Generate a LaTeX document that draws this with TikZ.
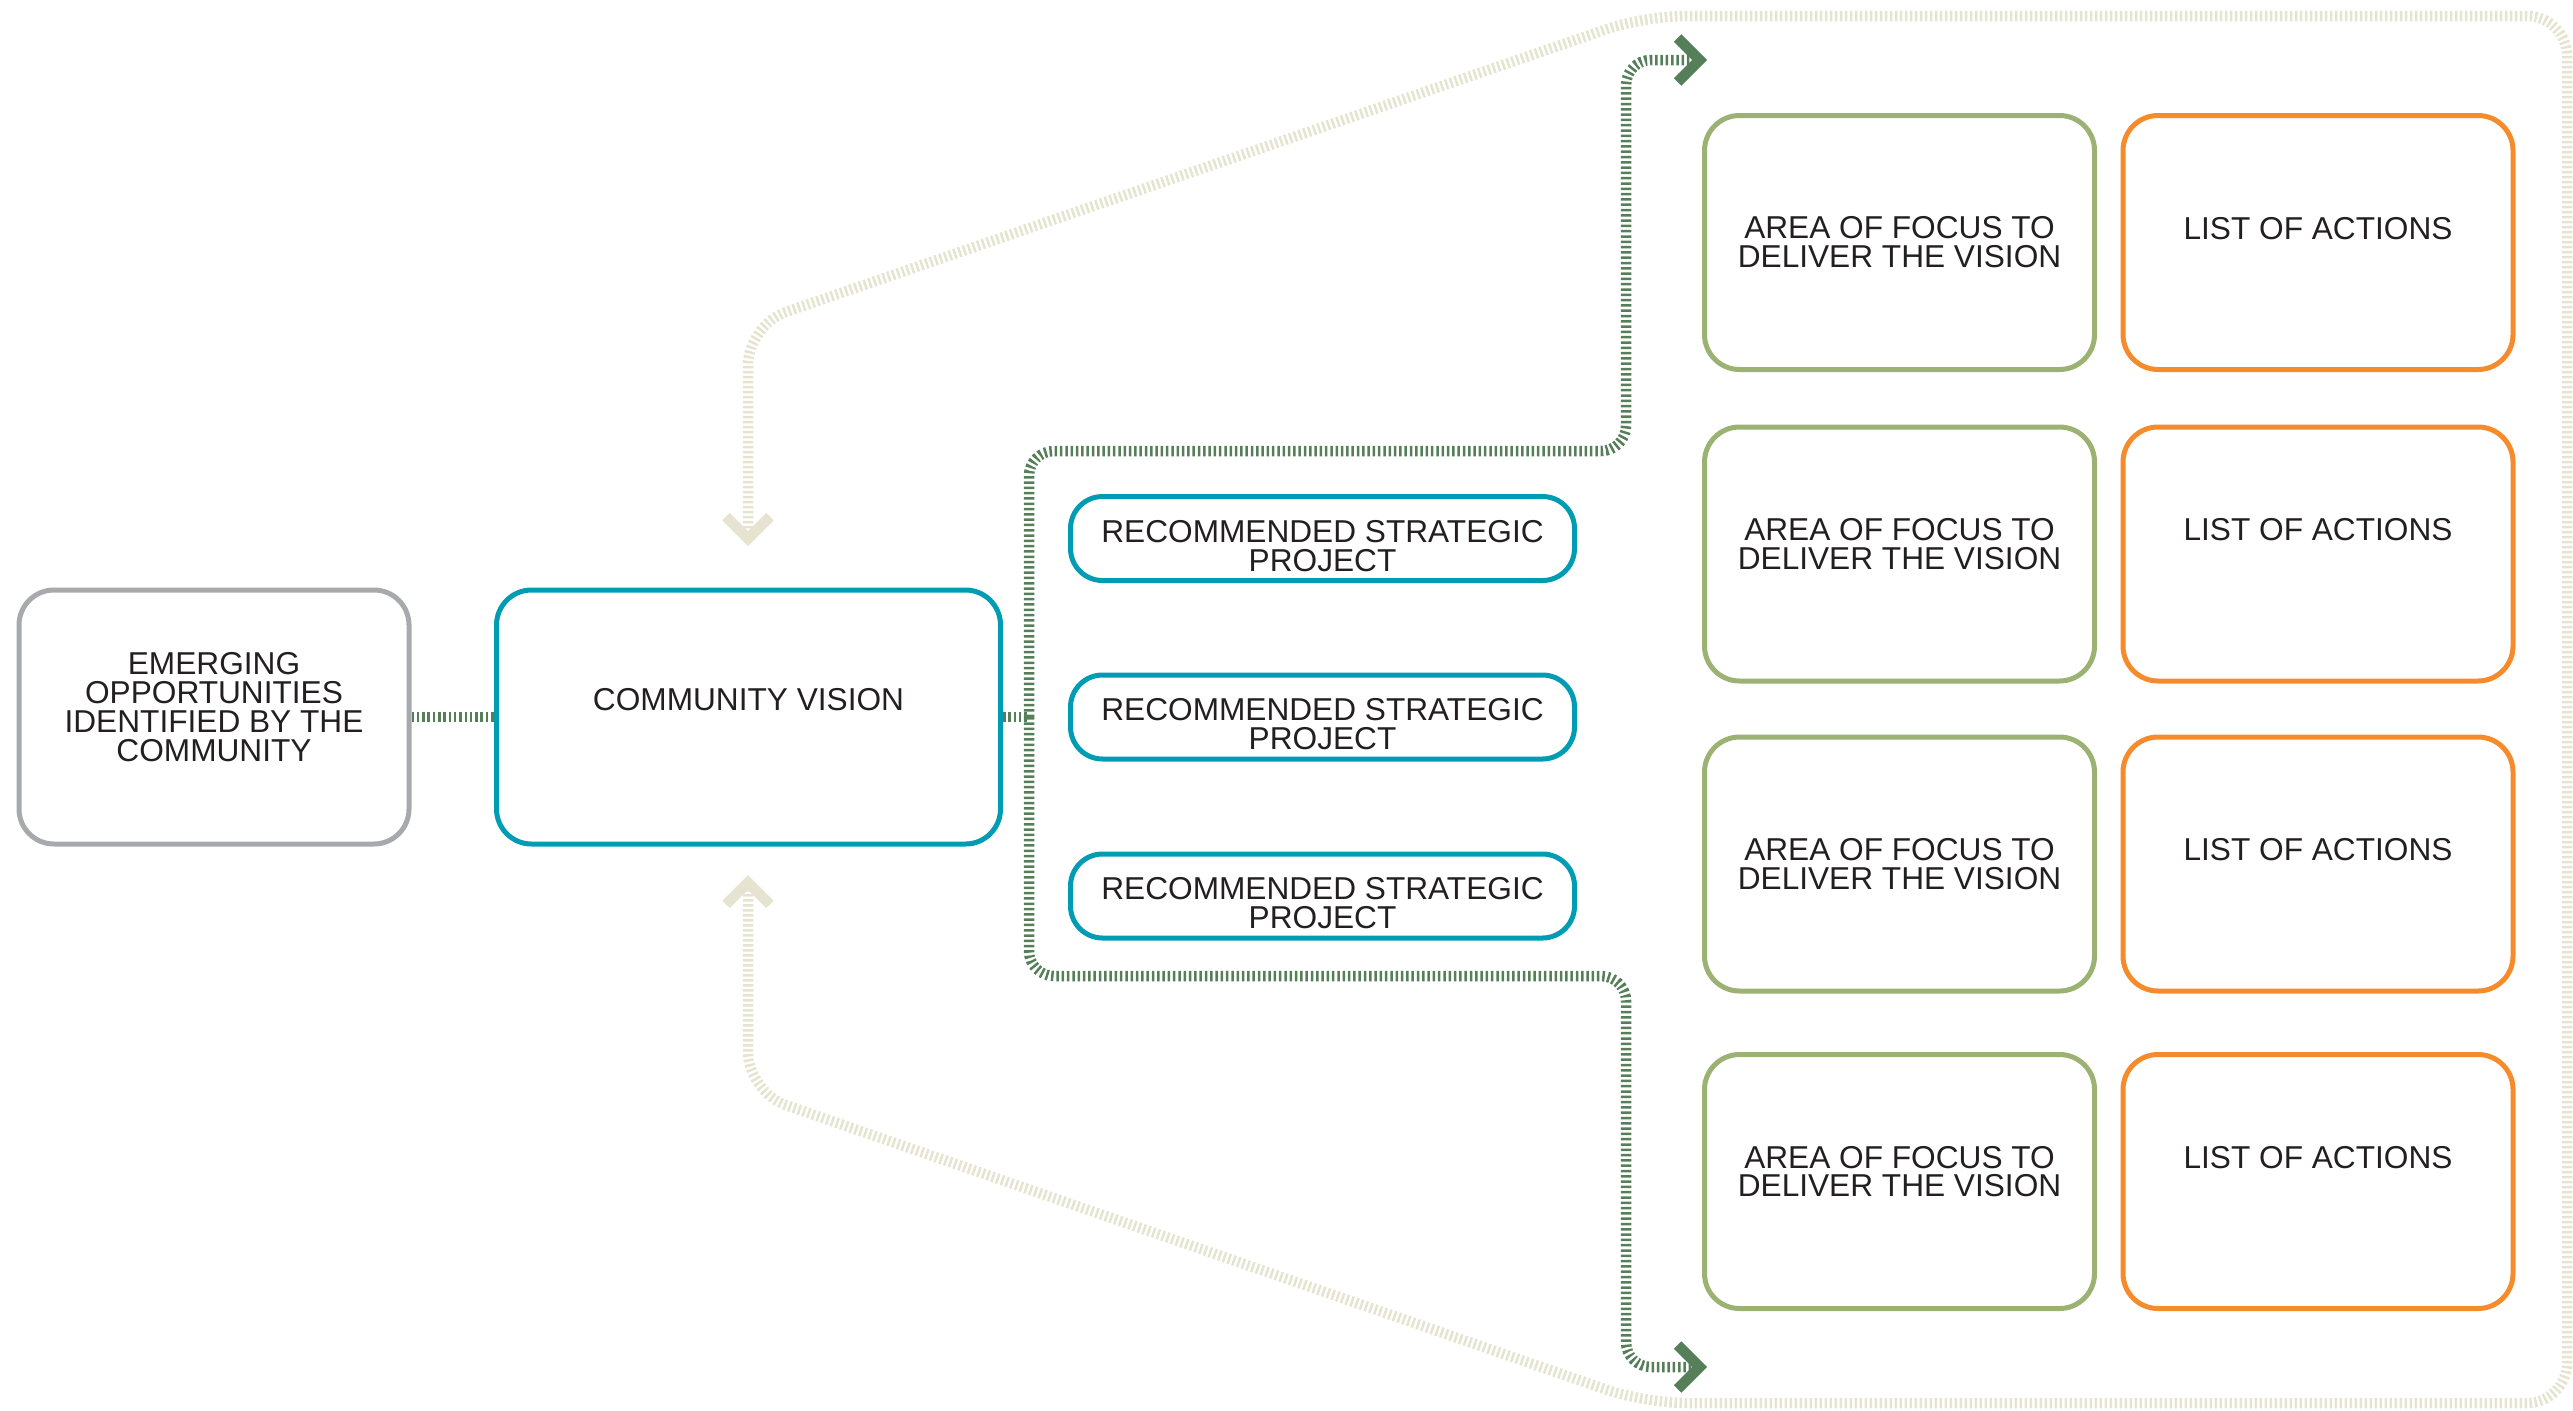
\documentclass[tikz,border=0pt]{standalone}
\usepackage{fontspec}
\setmainfont{Liberation Sans}
\usetikzlibrary{arrows.meta,positioning}

\definecolor{ink}{HTML}{231F20}
\definecolor{greyline}{HTML}{A7A9AC}
\definecolor{teal}{HTML}{009CB4}
\definecolor{leaf}{HTML}{9BB272}
\definecolor{amber}{HTML}{F68B2C}
\definecolor{moss}{HTML}{557F59}
\definecolor{sand}{HTML}{E6E4D0}

\begin{document}
\begin{tikzpicture}[x=0.1mm,y=-0.1mm,
  box/.style={draw,line width=0.5mm,rounded corners=3.5mm,inner sep=0pt,align=center,
    text=ink,font=\fontsize{9pt}{8.2pt}\selectfont,minimum width=39mm,minimum height=25.4mm},
  projbox/.style={box,draw=teal,rounded corners=3.2mm,minimum width=50.4mm,minimum height=8.4mm,text height=6.5mm,text depth=0mm},
  chev/.tip={Straight Barb[length=2.2mm,width=4.4mm]},
  link/.style={draw=moss,line width=1.05mm,dash pattern=on 0.25mm off 0.28mm},
  back/.style={draw=sand,line width=1.05mm,dash pattern=on 0.25mm off 0.25mm,rounded corners=4mm}]
\useasboundingbox (0,0) rectangle (2573,1410);

\node[box,draw=greyline,text depth=2mm] (emerg) at (214,717) {EMERGING\\OPPORTUNITIES\\IDENTIFIED BY THE\\COMMUNITY};
\node[box,draw=teal,minimum width=50.4mm,text depth=3.6mm] (vision) at (748.5,717) {COMMUNITY VISION};

\node[projbox] (proj1) at (1322.5,538.5) {RECOMMENDED STRATEGIC\\PROJECT};
\node[projbox] (proj2) at (1322.5,717) {RECOMMENDED STRATEGIC\\PROJECT};
\node[projbox] (proj3) at (1322.5,896) {RECOMMENDED STRATEGIC\\PROJECT};

\node[box,draw=leaf] (area1) at (1899.5,242.5) {AREA OF FOCUS TO\\DELIVER THE VISION};
\node[box,draw=leaf,text depth=2mm] (area2) at (1899.5,554) {AREA OF FOCUS TO\\DELIVER THE VISION};
\node[box,draw=leaf] (area3) at (1899.5,864) {AREA OF FOCUS TO\\DELIVER THE VISION};
\node[box,draw=leaf,text depth=2mm] (area4) at (1899.5,1181.5) {AREA OF FOCUS TO\\DELIVER THE VISION};

\node[box,draw=amber] (list1) at (2318,242.5) {LIST OF ACTIONS\\\phantom{X}};
\node[box,draw=amber,text depth=2mm] (list2) at (2318,554) {LIST OF ACTIONS\\\phantom{X}};
\node[box,draw=amber] (list3) at (2318,864) {LIST OF ACTIONS\\\phantom{X}};
\node[box,draw=amber,text depth=2mm] (list4) at (2318,1181.5) {LIST OF ACTIONS\\\phantom{X}};

% green bracket out of the vision
\coordinate (brk) at (1029,717);
\coordinate (upturn) at (1626,451);
\coordinate (dnturn) at (1626,976);
\coordinate (toptip) at (1707,60);
\coordinate (bottip) at (1707,1367);

\draw[link] (emerg) -- (vision);
\draw[link] (vision) -- (brk);
\draw[link,rounded corners=2.5mm,-chev] (brk) |- (upturn) |- (toptip);
\draw[link,rounded corners=2.5mm,-chev] (brk) |- (dnturn) |- (bottip);

% sand loop back to the vision
\coordinate (topin) at (748,546);
\coordinate (botin) at (748,875);
\draw[back,chev-chev] (topin) -- (748,325) -- (1645,16) -- (2567,16)
  -- (2567,1403) -- (1645,1403) -- (748,1092) -- (botin);
\end{tikzpicture}
\end{document}
